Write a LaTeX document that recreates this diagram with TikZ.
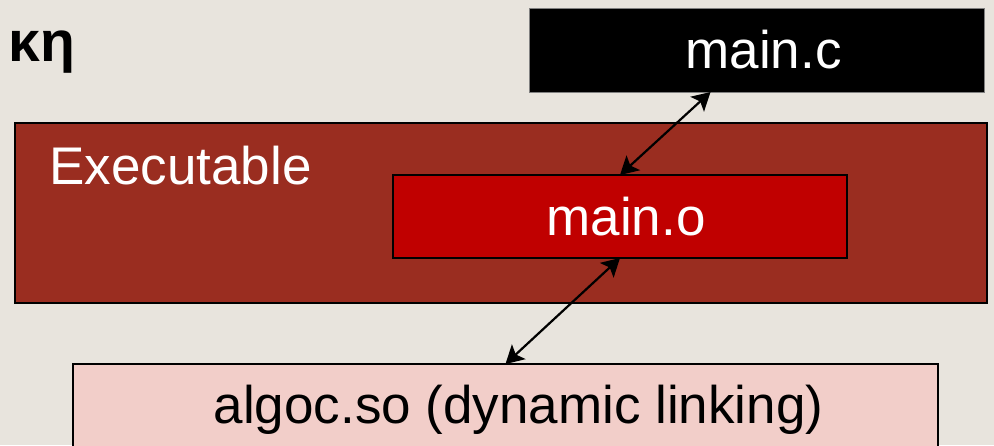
\documentclass[tikz,border=0pt]{standalone}
\usepackage{fontspec}
\setmainfont{Liberation Sans}
\usetikzlibrary{positioning, calc, arrows.meta}

\definecolor{slidebg}{RGB}{232,228,221}
\definecolor{exered}{RGB}{154,45,32}
\definecolor{objred}{RGB}{192,0,0}
\definecolor{libpink}{RGB}{242,206,201}

\tikzset{
	box/.style={rectangle, inner sep=0pt, outer sep=0pt, anchor=north west},
	twoway/.style={{Stealth[length=9pt,width=10pt,inset=2pt]}-{Stealth[length=9pt,width=10pt,inset=2pt]}, line width=1.1pt}
}

\begin{document}
\begin{tikzpicture}
		[x=0.5pt, y=-0.5pt, font=\fontsize{26.5pt}{30pt}\selectfont]
		\fill[slidebg] (0,0) rectangle (994,445);
		\useasboundingbox (0,0) rectangle (994,445);
		
		\node[anchor=base west, inner sep=0pt, font=\fontsize{28.5pt}{32pt}\selectfont\bfseries] (title) at (8,61) {κη};
		
		\node[box, fill=black, draw=gray, line width=0.5pt, text=white,
			minimum width=227.5pt, minimum height=42pt] (mainc) at (529,8) {\hspace*{7pt}main.c};
		\node[box, fill=exered, draw=black, line width=1pt,
			minimum width=486pt, minimum height=90pt] (exe) at (15,123) {};
		\node[anchor=base west, inner sep=0pt, text=white] (exelabel) at (49,184) {Executable};
		\node[box, fill=objred, draw=black, line width=0.75pt, text=white,
			minimum width=227pt, minimum height=41.5pt] (maino) at (393,175) {\hspace*{6pt}main.o};
		\node[box, fill=libpink, draw=black, line width=0.75pt,
			minimum width=432.5pt, minimum height=46pt] (algoc) at (73,364) {\hspace*{13pt}algoc.so (dynamic linking)};
		
		\draw[twoway] ([xshift=-23pt]mainc.south) -- (maino.north);
		\draw[twoway] (maino.south) -- (algoc.north);
	\end{tikzpicture}
\end{document}
